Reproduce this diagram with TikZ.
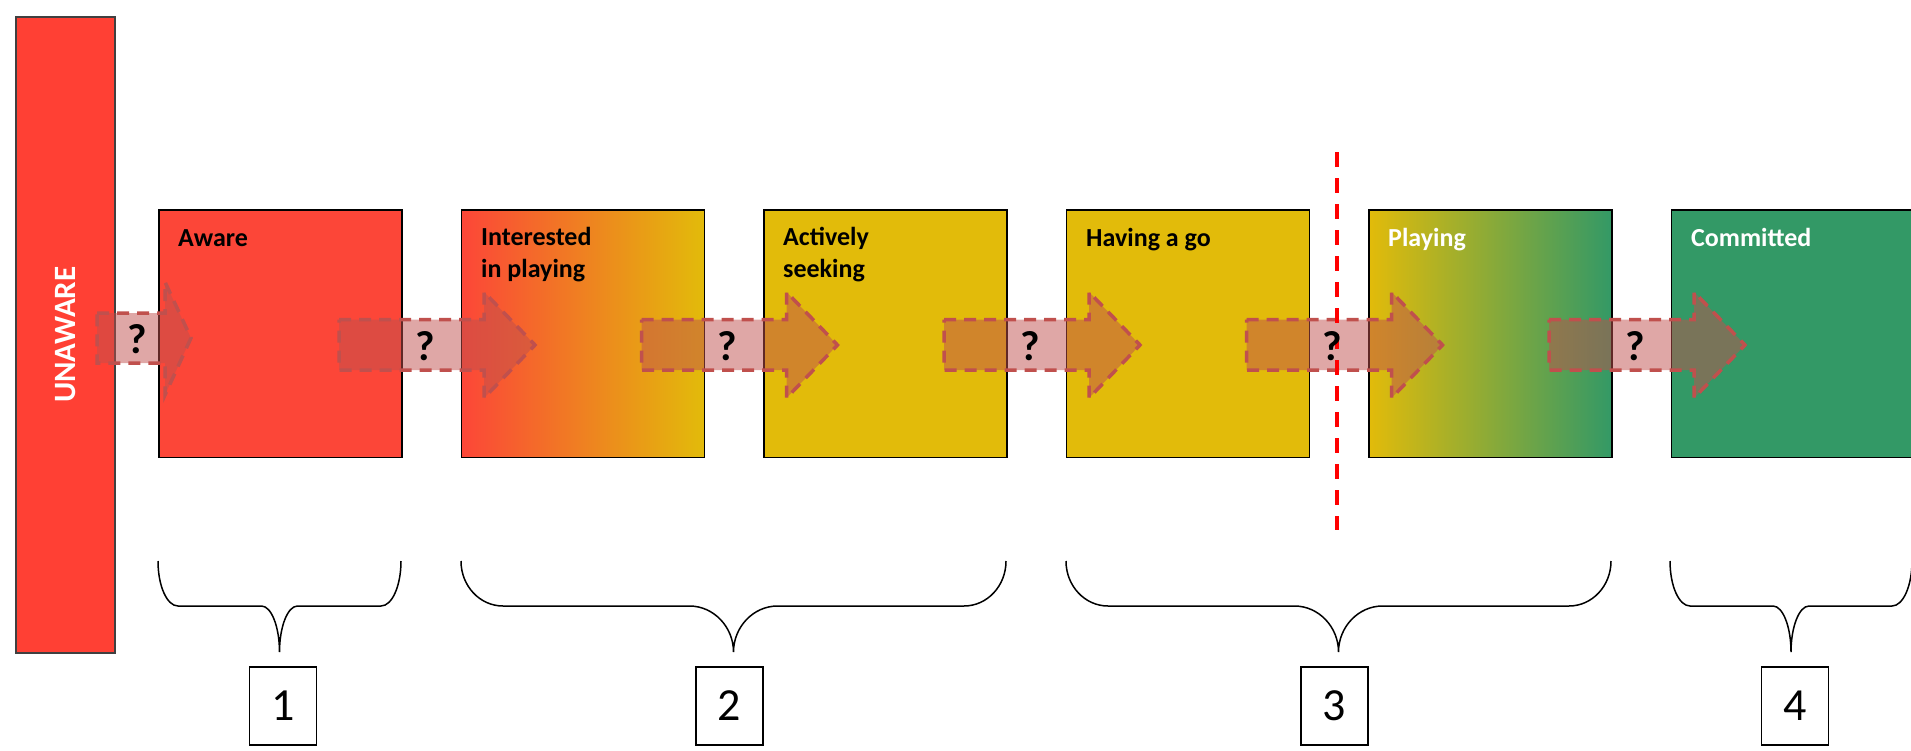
\documentclass[tikz,border=0pt]{standalone}
\usepackage{fontspec}
\setmainfont{Carlito}
\definecolor{redbar}{HTML}{FF4034}
\definecolor{redbox}{HTML}{FC4638}
\definecolor{yel}{HTML}{E2BB0A}
\definecolor{grn}{HTML}{339966}
\definecolor{arrowred}{HTML}{C0504D}
\definecolor{cutred}{HTML}{FF0000}
\begin{document}
\begin{tikzpicture}[x=1pt,y=-1pt,
  stagebox/.style={draw=black, line width=1.5pt, minimum width=243pt, minimum height=247.5pt, inner sep=0pt, anchor=north west},
  lbl/.style={anchor=base west, inner sep=0pt, font=\fontsize{26}{32}\selectfont\bfseries, align=left},
  flow/.style={fill=arrowred, fill opacity=0.5, draw=arrowred, line width=3.5pt, dash pattern=on 12pt off 8pt, line join=miter},
  qm/.style={font=\fontsize{42}{42}\selectfont\bfseries, inner sep=0pt, text=black},
  bracestyle/.style={draw=black, line width=1.5pt},
  numbox/.style={draw=black, line width=1.5pt, minimum width=67pt, minimum height=78pt, inner sep=0pt, font=\fontsize{46}{46}\selectfont},
  cutline/.style={draw=cutred, line width=3.5pt, dash pattern=on 15pt off 11pt}
]
\useasboundingbox (0,0) rectangle (1911,750);

% unaware bar
\node[draw=black!75, line width=1.5pt, fill=redbar, minimum width=99pt, minimum height=636pt, inner sep=0pt, anchor=north west] (unaware) at (15,16) {};
\node[rotate=90, text=white, inner sep=0pt, font=\fontsize{31}{31}\selectfont\bfseries] (unawaretxt) at (unaware.center) {UNAWARE};

% stage boxes
\node[stagebox, fill=redbox] (aware) at (158,209) {};
\node[stagebox, left color=redbox, right color=yel] (interested) at (460.5,209) {};
\node[stagebox, fill=yel] (seeking) at (763,209) {};
\node[stagebox, fill=yel] (havingago) at (1065.5,209) {};
\node[stagebox, left color=yel, right color=grn] (playing) at (1368,209) {};
\node[stagebox, fill=grn] (committed) at (1670.5,209) {};

% arrows
\draw[flow] (97,313) -- (165,313) -- (165,282) -- (191,338) -- (165,395) -- (165,363) -- (97,363) -- cycle;
\foreach \k in {0,...,4} {
  \pgfmathsetmacro\T{339+302.5*\k}
  \pgfmathsetmacro\Hb{484+302.5*\k}
  \pgfmathsetmacro\X{535+302.5*\k}
  \draw[flow] (\T,319.5) -- (\Hb,319.5) -- (\Hb,292) -- (\X,345) -- (\Hb,398) -- (\Hb,370) -- (\T,370) -- cycle;
}

% cut line
\coordinate (cuttop) at (1337,152);
\coordinate (cutbot) at (1337,530);
\draw[cutline] (cuttop) -- (cutbot);

% question marks
\node[qm] (q1) at (137,339) {?};
\node[qm] (q2) at (425,346) {?};
\node[qm] (q3) at (727.5,346) {?};
\node[qm] (q4) at (1030,346) {?};
\node[qm] (q5) at (1332.5,346) {?};
\node[qm] (q6) at (1635,346) {?};

% labels
\node[lbl, text=black] (lawa) at (178,246) {Aware};
\node[lbl, text=black] (lint) at (481,277) {Interested\\in playing};
\node[lbl, text=black] (lact) at (783,277) {Actively\\seeking};
\node[lbl, text=black] (lhav) at (1086,246) {Having a go};
\node[lbl, text=white] (lpla) at (1388,246) {Playing};
\node[lbl, text=white] (lcom) at (1691,246) {Committed};

% braces
\newcommand\drawbrace[4]{%
  \pgfmathsetmacro\bC{(#1+#2)/2}%
  \pgfmathsetmacro\bLa{#1+#3}%
  \pgfmathsetmacro\bLb{#1+0.45*#3}%
  \pgfmathsetmacro\bRa{#2-#3}%
  \pgfmathsetmacro\bRb{#2-0.45*#3}%
  \pgfmathsetmacro\cLa{\bC-#4}%
  \pgfmathsetmacro\cLb{\bC-0.45*#4}%
  \pgfmathsetmacro\cRa{\bC+#4}%
  \pgfmathsetmacro\cRb{\bC+0.45*#4}%
  \draw[bracestyle] (#1,561) .. controls (#1,586) and (\bLb,606) .. (\bLa,606)
    -- (\cLa,606) .. controls (\cLb,606) and (\bC,627) .. (\bC,652)
    .. controls (\bC,627) and (\cRb,606) .. (\cRa,606)
    -- (\bRa,606) .. controls (\bRb,606) and (#2,586) .. (#2,561);
}
\drawbrace{158}{401}{20}{18}
\drawbrace{461}{1006}{42}{44}
\drawbrace{1066}{1611}{42}{44}
\drawbrace{1670}{1912}{20}{18}

% number boxes
\node[numbox] (n1) at (283,706) {1};
\node[numbox] (n2) at (729.5,706) {2};
\node[numbox] (n3) at (1334.5,706) {3};
\node[numbox] (n4) at (1795,706) {4};
\end{tikzpicture}
\end{document}
